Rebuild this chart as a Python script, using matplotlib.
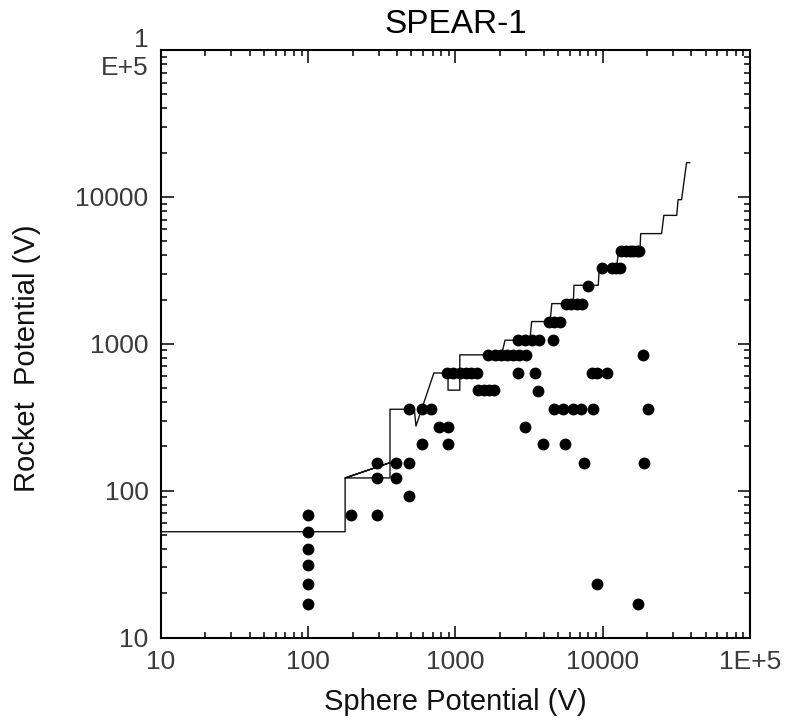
import matplotlib
matplotlib.use("Agg")
import matplotlib.pyplot as plt
from matplotlib.ticker import FixedLocator, FixedFormatter, LogLocator, NullFormatter

plt.rcParams["font.family"] = ["Liberation Sans", "DejaVu Sans"]

# measured points (sphere potential, rocket potential)
sphere_v = [100, 100, 100, 100, 100, 100,
            196, 294, 294, 294, 394, 394, 486, 486, 486,
            592, 684, 592, 775, 887, 887,
            870, 963, 1070, 1185, 1280, 1390,
            1420, 1550, 1700, 1840,
            1670, 1850, 2050, 2250, 2450, 2700, 3000,
            2650, 2950, 3300, 3700, 4570,
            4300, 4700, 5100,
            2660, 3480, 3650, 2977, 3906, 5530,
            8410, 9110, 10660,
            4660, 5390, 6240, 7170, 8520, 20280,
            7470, 19200, 9170, 17340, 18640,
            5620, 6110, 6640, 7220, 7980,
            9940, 11500, 12300, 13100,
            13400, 14300, 15200, 16100, 17000, 17700]
rocket_v = [17, 23, 31, 40, 52, 68,
            68, 155, 122, 68, 155, 122, 155, 92, 358,
            358, 358, 207, 272, 272, 207,
            632, 632, 632, 632, 632, 632,
            483, 483, 483, 483,
            835, 835, 835, 835, 835, 835, 835,
            1057, 1057, 1057, 1057, 1057,
            1416, 1416, 1416,
            632, 632, 477, 272, 207, 207,
            632, 632, 632,
            360, 360, 360, 360, 360, 360,
            155, 155, 23, 17, 832,
            1876, 1876, 1876, 1876, 2473,
            3266, 3266, 3266, 3266,
            4280, 4280, 4280, 4280, 4280, 4280]

# model curve
curve_x = [10, 178, 178, 359, 178, 359, 359, 525, 539, 713, 890, 890, 1070, 1070,
           2054, 2170, 3200, 3290, 4390, 4510, 6310, 6380, 9320, 9470, 12400, 12800,
           17900, 18100, 25100, 26000, 31800, 32500, 34300, 37100, 38900]
curve_y = [52.5, 52.5, 122, 155, 122, 122, 358, 358, 275, 632, 632, 483, 483, 840,
           840, 1057, 1057, 1416, 1416, 1876, 1876, 2500, 2500, 3266, 3266, 4280,
           4280, 5620, 5620, 7480, 7480, 9570, 9570, 17100, 17100]

x_ticks = [10, 100, 1000, 10000, 100000]
x_labels = ["10", "100", "1000", "10000", "1E+5"]
y_ticks = [10, 100, 1000, 10000, 100000]
y_labels = ["10", "100", "1000", "10000", "1\nE+5"]

fig = plt.figure(figsize=(7.85, 7.21), dpi=100)
ax = fig.add_axes([0.2051, 0.1158, 0.7503, 0.8149])

ax.plot(curve_x, curve_y, color="#111111", lw=1.0)
ax.plot(sphere_v, rocket_v, "o", color="black", ms=7.5, mec="black")

ax.set_xscale("log")
ax.set_yscale("log")
ax.set_xlim(10, 1e5)
ax.set_ylim(10, 1e5)

ax.xaxis.set_major_locator(FixedLocator(x_ticks))
ax.xaxis.set_major_formatter(FixedFormatter(x_labels))
ax.yaxis.set_major_locator(FixedLocator(y_ticks))
ax.yaxis.set_major_formatter(FixedFormatter(y_labels))
for axis in (ax.xaxis, ax.yaxis):
    axis.set_minor_locator(LogLocator(base=10, subs=range(2, 10)))
    axis.set_minor_formatter(NullFormatter())

ax.tick_params(which="both", direction="in", top=True, right=True,
               width=1.1, colors="black", labelcolor="#3a3a3a", labelsize=19)
ax.tick_params(which="major", length=9, pad=9)
ax.tick_params(which="minor", length=4.5)
for lab in ax.get_yticklabels():
    lab.set_multialignment("right")
for sp in ax.spines.values():
    sp.set_linewidth(1.5)

ax.set_title("SPEAR-1", fontsize=24, pad=12)
ax.set_xlabel("Sphere Potential (V)", fontsize=21, labelpad=10, color="#111111")
ax.set_ylabel("Rocket  Potential (V)", fontsize=21, color="#111111")
ax.yaxis.set_label_coords(-0.204, 0.476)

fig.savefig("out.png", dpi=100)
